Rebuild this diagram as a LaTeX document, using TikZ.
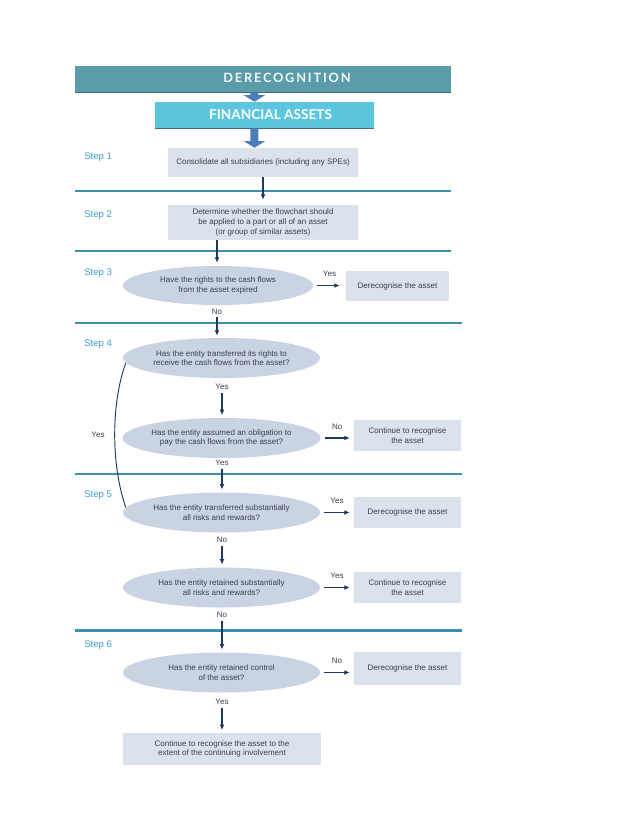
\documentclass[tikz,border=0pt]{standalone}
\usepackage{fontspec}
\setmainfont{Liberation Sans}
\newfontfamily\titlefont{Lato}
\usetikzlibrary{shapes.geometric,arrows.meta}
\definecolor{barteal}{HTML}{5B9CAB}
\definecolor{barcyan}{HTML}{5BC6DE}
\definecolor{fatblue}{HTML}{4A7DBA}
\definecolor{boxfill}{HTML}{DCE2EC}
\definecolor{ellfill}{HTML}{C9D3E3}
\definecolor{ruleblue}{HTML}{3E90B0}
\definecolor{stepblue}{HTML}{3A9ED4}
\definecolor{txt}{HTML}{3A3F50}
\definecolor{navy}{HTML}{1E3A5C}
\tikzset{
  box/.style={fill=boxfill,inner sep=0pt,align=center,text=txt,font=\fontsize{6}{7.2}\selectfont},
  qell/.style={ellipse,fill=ellfill,inner sep=0pt,minimum width=147.75pt,minimum height=30pt,align=center,text=txt,font=\fontsize{6}{7.2}\selectfont},
  lbl/.style={text=txt,font=\fontsize{6}{7.2}\selectfont,inner sep=0pt},
  steplbl/.style={anchor=west,text=stepblue,font=\fontsize{7.2}{8}\selectfont,inner sep=0pt},
  bar/.style={minimum height=19.5pt,inner sep=0pt},
  bartxt/.style={inner sep=0pt,font=\titlefont\bfseries\fontsize{10.2}{11}\selectfont},
  arr/.style={navy,line width=0.9pt,-{Latex[length=4pt,width=3.6pt]}},
  fatarr/.style={fatblue,line width=6pt,-{Triangle[length=5pt,width=16pt]}}
}
\begin{document}
\begin{tikzpicture}[x=0.75pt,y=-0.75pt,line cap=butt]
  \useasboundingbox (0,0) rectangle (638,826);
  % title bars
  \node[bar,fill=barteal,minimum width=282pt] (der) at (263,79) {};
  \node[bartxt,text=white!92!barteal,font=\titlefont\bfseries\fontsize{9.6}{10}\selectfont\addfontfeature{LetterSpace=14}] (dertxt) at (287,78) {DERECOGNITION};
  \node[bar,fill=barcyan,minimum width=164.25pt] (fa) at (264.5,115) {};
  \node[bartxt,text=white] (fatxt) at (270.5,115) {FINANCIAL ASSETS};
  \draw[barteal!70!black,line width=0.8pt] (der.south west)--(der.south east) (fa.south west)--(fa.south east);
  % section rules
  \foreach \y/\xr/\w in {191/451/1.1,251/451/1.1,323/462/0.9,474/462/1.1,630.5/462/1.6}{\draw[ruleblue,line width=\w pt] (75,\y)--(\xr,\y);}
  \foreach \n/\y in {1/157,2/215,3/273,4/344,5/495,6/645}{\node[steplbl] at (84,\y) {Step \n};}
  % boxes and questions
  \node[box,minimum width=142.5pt,minimum height=21.75pt] (b1) at (263,162.5) {Consolidate all subsidiaries (including any SPEs)};
  \node[box,minimum width=142.5pt,minimum height=26.25pt] (b2) at (263,222.5) {Determine whether the flowchart should\\be applied to a part or all of an asset\\(or group of similar assets)};
  \node[qell,minimum width=142.5pt,minimum height=29.25pt] (e1) at (218,285.5) {Have the rights to the cash flows\\from the asset expired};
  \node[box,minimum width=77.25pt,minimum height=22.5pt] (d1) at (397.5,286) {Derecognise the asset};
  \node[qell] (e2) at (221.5,358) {Has the entity transferred its rights to\\receive the cash flows from the asset?};
  \node[qell] (e3) at (221.5,438) {Has the entity assumed an obligation to\\pay the cash flows from the asset?};
  \node[box,minimum width=80.25pt,minimum height=23.25pt] (c1) at (407.5,435.5) {Continue to recognise\\the asset};
  \node[qell] (e4) at (221.5,512.5) {Has the entity transferred substantially\\all risks and rewards?};
  \node[box,minimum width=80.25pt,minimum height=23.25pt] (d2) at (407.5,512.5) {Derecognise the asset};
  \node[qell] (e5) at (221.5,587.5) {Has the entity retained substantially\\all risks and rewards?};
  \node[box,minimum width=80.25pt,minimum height=23.25pt] (c2) at (407.5,587.5) {Continue to recognise\\the asset};
  \node[qell] (e6) at (221.5,672.5) {Has the entity retained control\\of the asset?};
  \node[box,minimum width=80.25pt,minimum height=24.75pt] (d3) at (407.5,668.5) {Derecognise the asset};
  \node[box,minimum width=148.5pt,minimum height=24pt] (fin) at (222,749) {Continue to recognise the asset to the\\extent of the continuing involvement};
  % yes / no labels
  \node[lbl] (no1) at (217,312) {No};
  \node[lbl] (yes2) at (222,387) {Yes};
  \node[lbl] (yes3) at (222,463) {Yes};
  \node[lbl] (no4) at (222,540) {No};
  \node[lbl] (no5) at (222,615) {No};
  \node[lbl] (yes6) at (222,702) {Yes};
  \node[lbl] (yesc) at (98,435) {Yes};
  % fat arrows
  \draw[fatarr] ([xshift=-6.4pt]der.south) -- ([xshift=-7.5pt]fa.north);
  \draw[fatarr] ([xshift=-7.5pt]fa.south) -- ([xshift=-6.4pt]b1.north);
  % connectors
  \draw[arr,shorten >=3.75pt] (b1.south) -- (b2.north);
  \draw[arr,shorten >=2.25pt] (b2.south -| no1) -- (no1 |- e1.north);
  \draw[arr,shorten <=1.5pt,shorten >=1.5pt] (no1.south) -- (no1 |- e2.north);
  \foreach \a/\b in {yes2/e3,yes3/e4,no4/e5,no5/e6,yes6/fin}{\draw[arr,shorten <=2.5pt,shorten >=2pt] (\a.south) -- (\a |- \b.north);}
  \draw[arr,shorten <=3pt,shorten >=4.5pt] (e1.east) -- (e1.east -| d1.west) node[lbl,midway,above=6pt] {Yes};
  \foreach \a/\b/\t in {e3/c1/No,e4/d2/Yes,e5/c2/Yes,e6/d3/No}{\draw[arr,shorten <=3pt,shorten >=3pt] (\a.east) -- (\a.east -| \b.west) node[lbl,midway,above=6pt] {\t};}
  \draw[navy,line width=0.7pt] (e2.183) .. controls (112,400) and (110,462) .. (e4.177);
\end{tikzpicture}
\end{document}
